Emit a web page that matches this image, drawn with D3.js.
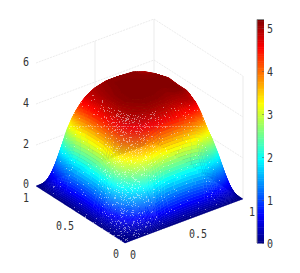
<!DOCTYPE html>
<html>
<head>
<meta charset="utf-8">
<script src="https://cdn.jsdelivr.net/npm/d3@7/dist/d3.min.js"></script>
<style>
html,body{margin:0;padding:0;background:#fff;}
svg{display:block;}
text{font-family:"DejaVu Sans Mono",monospace;font-size:12.5px;fill:#333;}
</style>
</head>
<body>
<svg id="chart" width="300" height="273"></svg>
<script>
// grid positions along both floor axes
var gridPos = [0,.03,.06,.09,.12,.15,.2,.25,.3,.4,.5,.6,.7,.75,.8,.85,.9,.95,1];
// heights, one row per x in gridPos
var surface = [
    [0,0,0,0,0,0,0,0,0,0,0,0,0,0,0,0,0,0,0],
    [0,.02,.04,.07,.11,.14,.19,.27,.38,.50,.52,.52,.50,.47,.41,.33,.24,.12,0],
    [0,.04,.11,.19,.28,.38,.61,.85,1.16,1.32,1.35,1.35,1.31,1.23,1.07,.87,.62,.32,0],
    [0,.07,.19,.33,.53,.85,1.27,1.85,2.19,2.38,2.39,2.38,2.32,2.18,1.89,1.55,1.10,.57,0],
    [0,.11,.28,.53,.99,1.53,2.29,3.02,3.31,3.50,3.50,3.48,3.39,3.19,2.77,2.26,1.61,.84,0],
    [0,.14,.38,.85,1.53,2.27,3.51,4.09,4.26,4.44,4.44,4.41,4.31,4.05,3.50,2.86,2.04,1.07,0],
    [0,.19,.61,1.27,2.29,3.51,4.27,4.57,4.77,4.85,4.85,4.82,4.80,4.40,3.85,3.13,2.22,1.16,0],
    [0,.27,.85,1.85,3.02,4.09,4.57,4.89,4.97,5.04,5.04,5.01,4.95,4.60,3.98,3.26,2.32,1.21,0],
    [0,.38,1.16,2.19,3.31,4.26,4.77,4.97,5.04,5.12,5.12,5.09,5.05,4.80,4.30,3.31,2.35,1.23,0],
    [0,.50,1.32,2.38,3.50,4.44,4.85,5.04,5.12,5.20,5.20,5.17,5.15,4.95,4.60,3.36,2.39,1.25,0],
    [0,.52,1.35,2.39,3.50,4.44,4.85,5.04,5.12,5.20,5.20,5.17,5.15,4.95,4.60,3.36,2.39,1.25,0],
    [0,.52,1.35,2.38,3.48,4.41,4.82,5.01,5.09,5.17,5.17,5.15,5.12,4.85,4.50,3.34,2.38,1.24,0],
    [0,.50,1.31,2.32,3.39,4.31,4.95,5.02,5.15,5.20,5.20,5.10,4.90,4.61,3.98,3.26,2.32,1.21,0],
    [0,.47,1.23,2.18,3.19,4.05,4.70,4.85,5.00,5.00,5.05,4.90,4.61,4.31,3.75,3.06,2.18,1.14,0],
    [0,.41,1.07,1.89,2.77,3.50,4.00,4.30,4.50,4.50,4.50,4.40,3.98,3.75,3.25,2.66,1.89,.99,0],
    [0,.33,.87,1.55,2.26,2.86,3.13,3.26,3.31,3.36,3.36,3.34,3.26,3.06,2.66,2.17,1.55,.81,0],
    [0,.24,.62,1.10,1.61,2.04,2.22,2.32,2.35,2.39,2.39,2.38,2.32,2.18,1.89,1.55,1.10,.57,0],
    [0,.12,.32,.57,.84,1.07,1.16,1.21,1.23,1.25,1.25,1.24,1.21,1.14,.99,.81,.57,.30,0],
    [0,0,0,0,0,0,0,0,0,0,0,0,0,0,0,0,0,0,0]
];

var zTicks = [0,2,4,6];
var barTicks = [0,1,2,3,4,5];
var zMax = 5.2;

var width = 300, height = 273;
var svg = d3.select('#chart');

// projection of the box, x runs to the right corner and y to the left corner
var xToX = d3.scaleLinear().domain([0,1]).range([0,118]);
var xToY = d3.scaleLinear().domain([0,1]).range([0,-44]);
var yToX = d3.scaleLinear().domain([0,1]).range([0,-89]);
var yToY = d3.scaleLinear().domain([0,1]).range([0,-57]);
var zScale = d3.scaleLinear().domain([0,6]).range([0,-123]);
var px = (x,y) => 125 + xToX(x) + yToX(y);
var py = (x,y,z) => 243 + xToY(x) + yToY(y) + zScale(z);

// jet colormap
var jet = d3.scaleLinear()
    .domain([0,.125,.375,.625,.875,1])
    .range(['#000080','#0000ff','#00ffff','#ffff00','#ff0000','#800000'])
    .clamp(true);

// Walls
var wallLine = (x1,y1,z1,x2,y2,z2) => svg.append('line')
    .attr('x1',px(x1,y1)).attr('y1',py(x1,y1,z1))
    .attr('x2',px(x2,y2)).attr('y2',py(x2,y2,z2))
    .attr('stroke','#e6e6e6').attr('stroke-width',.8);

[2,4,6].forEach(z => {
    wallLine(0,1,z,1,1,z).attr('stroke-dasharray','2 1');
    wallLine(1,1,z,1,0,z).attr('stroke-dasharray','2 1');
});
wallLine(1,1,0,1,1,6);
wallLine(1,0,0,1,0,6);
wallLine(.5,1,0,.5,1,6);

// Surface, one path per colour level and low values first
var heightAt = function(x,y){
    var i = Math.min(d3.bisectRight(gridPos,x)-1, gridPos.length-2);
    var j = Math.min(d3.bisectRight(gridPos,y)-1, gridPos.length-2);
    var a = (x-gridPos[i])/(gridPos[i+1]-gridPos[i]);
    var b = (y-gridPos[j])/(gridPos[j+1]-gridPos[j]);
    return surface[i][j]*(1-a)*(1-b) + surface[i+1][j]*a*(1-b)
        + surface[i][j+1]*(1-a)*b + surface[i+1][j+1]*a*b;
};

var numLevels = 128;
var fine = 220;
var levelPaths = d3.range(numLevels).map(() => '');
var visible = {};
d3.range(fine).forEach(i => {
    d3.range(fine).forEach(j => {
        var x0 = i/fine, x1 = (i+1)/fine, y0 = j/fine, y1 = (j+1)/fine;
        var z00 = heightAt(x0,y0), z10 = heightAt(x1,y0), z11 = heightAt(x1,y1), z01 = heightAt(x0,y1);
        var mean = (z00+z10+z11+z01)/4;
        var level = Math.min(numLevels-1, Math.floor(mean/zMax*numLevels));
        var xs = [px(x0,y0),px(x1,y0),px(x1,y1),px(x0,y1)];
        var ys = [py(x0,y0,z00),py(x1,y0,z10),py(x1,y1,z11),py(x0,y1,z01)];
        levelPaths[level] += 'M'+xs[0].toFixed(2)+','+ys[0].toFixed(2)
            +'L'+xs[1].toFixed(2)+','+ys[1].toFixed(2)
            +'L'+xs[2].toFixed(2)+','+ys[2].toFixed(2)
            +'L'+xs[3].toFixed(2)+','+ys[3].toFixed(2)+'Z';
        // remember the pixels of the front slope for the mesh holes
        if (x0 + y0 < 1 && mean < 4.95) {
            d3.range(Math.ceil(d3.min(xs)),Math.floor(d3.max(xs))+1).forEach(X => {
                d3.range(Math.ceil(d3.min(ys)),Math.floor(d3.max(ys))+1).forEach(Y => {
                    visible[X+'_'+Y] = true;
                });
            });
        }
    });
});
svg.append('g')
    .selectAll('path')
    .data(levelPaths)
    .enter()
    .append('path')
        .attr('d', d => d)
        .attr('fill', (d,i) => jet((i+.5)/numLevels))
        .attr('stroke', (d,i) => jet((i+.5)/numLevels))
        .attr('stroke-width', .2);

// small holes of the mesh, denser down the middle and in the red band
var holeRate = function(X,Y){
    var middle = .13*Math.exp(-Math.pow((X-128)/20,2));
    var band = .07*Math.exp(-Math.pow((Y-115)/14,2))*Math.exp(-Math.pow((X-135)/45,2));
    return .012 + middle + band;
};
var holes = '';
Object.keys(visible).forEach(k => {
    var p = k.split('_'), X = +p[0], Y = +p[1];
    var h = ((X*7919 + Y*104729 + X*Y*31) ^ (X*Y*613)) % 1009;
    if (h/1009 < holeRate(X,Y)) holes += 'M'+X+','+Y+'h1v1h-1Z';
});
svg.append('path')
    .attr('d',holes)
    .attr('fill','#fff')
    .attr('fill-opacity',.45);

// faint line across the surface
svg.append('line')
    .attr('x1',70).attr('x2',203).attr('y1',126.5).attr('y2',126.5)
    .attr('stroke','#fff').attr('stroke-opacity',.3).attr('stroke-dasharray','2 1');

// Tick labels, narrowed
var label = (s,x,y) => svg.append('text')
    .attr('transform','translate('+x+','+y+') scale(.8,1)')
    .attr('text-anchor','middle').attr('dy','.36em').text(s);

zTicks.forEach(z => label(z, 26, py(0,1,z)-(z == 0 ? 3 : 2)));
label('1',26,197);
label('0.5',65,225);
label('0',116,253);
label('0',133,254);
label('0.5',198,233);
label('1',252,211);

// Colorbar
var barScale = d3.scaleLinear().domain([0,zMax]).range([243,19.4]);
var barWidth = 7;
svg.append('g')
    .selectAll('rect')
    .data(d3.range(numLevels))
    .enter()
    .append('rect')
        .attr('x',257)
        .attr('width',barWidth)
        .attr('y',d => barScale((d+1)/numLevels*zMax))
        .attr('height',d => barScale(d/numLevels*zMax)-barScale((d+1)/numLevels*zMax)+.5)
        .attr('fill',d => jet((d+.5)/numLevels));
svg.append('path')
    .attr('d','M257,243V19.5H264')
    .attr('fill','none').attr('stroke','#888').attr('stroke-width',1);

var barAxis = d3.axisRight(barScale)
    .tickValues(barTicks)
    .tickFormat(d3.format('d'))
    .tickSizeInner(-2)
    .tickSizeOuter(0)
    .tickPadding(0);
var barG = svg.append('g')
    .attr('transform','translate(264,0)')
    .call(barAxis);
barG.select('.domain').remove();
barG.selectAll('line').attr('stroke','#555').attr('stroke-width',.5);
barG.selectAll('text')
    .attr('x',0)
    .attr('dy','.36em')
    .attr('text-anchor','middle')
    .attr('transform','translate(6,0) scale(.8,1)')
    .style('font-family','"DejaVu Sans Mono",monospace')
    .style('font-size','12.5px');
</script>
</body>
</html>
